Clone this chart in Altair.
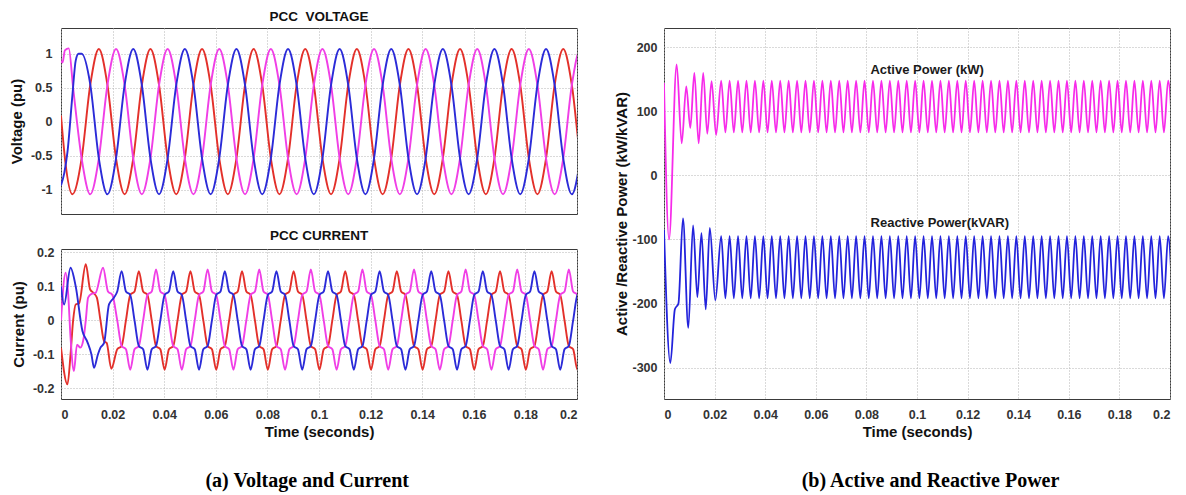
import altair as alt
import pandas as pd

# ---------------- shared time axis ----------------
X_TICKS = [0, 0.02, 0.04, 0.06, 0.08, 0.1, 0.12, 0.14, 0.16, 0.18, 0.2]

# ---------------- PCC voltage (pu) ----------------
# start-up samples (explicit times) for each phase
vr_tr_t = [0.0, 0.0017, 0.0044]
vr_tr_v = [0.09, -0.6, -1.07]
vm_tr_t = [0.0, 0.0006, 0.0015, 0.003, 0.0047]
vm_tr_v = [0.9, 0.87, 1.05, 1.08, 0.5]
vb_tr_t = [0.0, 0.0013, 0.0025, 0.0044, 0.0057, 0.0068]
vb_tr_v = [-0.94, -0.75, -0.45, 0.38, 0.9, 1.0]
# regularly sampled part: first sample time and sampling step (s)
V_START = 0.008
V_STEP = 0.02 / 6
vr_ss = [
    -0.54, 0.54, 1.07, 0.54, -0.54, -1.07,
    -0.54, 0.54, 1.07, 0.54, -0.54, -1.07,
    -0.54, 0.54, 1.07, 0.54, -0.54, -1.07,
    -0.54, 0.54, 1.07, 0.54, -0.54, -1.07,
    -0.54, 0.54, 1.07, 0.54, -0.54, -1.07,
    -0.54, 0.54, 1.07, 0.54, -0.54, -1.07,
    -0.54, 0.54, 1.07, 0.54, -0.54, -1.07,
    -0.54, 0.54, 1.07, 0.54, -0.54, -1.07,
    -0.54, 0.54, 1.07, 0.54, -0.54, -1.07,
    -0.54, 0.54, 1.07, 0.54, -0.54, -1.07,
]
vm_ss = [
    -0.54, -1.07, -0.54, 0.54, 1.07, 0.54,
    -0.54, -1.07, -0.54, 0.54, 1.07, 0.54,
    -0.54, -1.07, -0.54, 0.54, 1.07, 0.54,
    -0.54, -1.07, -0.54, 0.54, 1.07, 0.54,
    -0.54, -1.07, -0.54, 0.54, 1.07, 0.54,
    -0.54, -1.07, -0.54, 0.54, 1.07, 0.54,
    -0.54, -1.07, -0.54, 0.54, 1.07, 0.54,
    -0.54, -1.07, -0.54, 0.54, 1.07, 0.54,
    -0.54, -1.07, -0.54, 0.54, 1.07, 0.54,
    -0.54, -1.07, -0.54, 0.54, 1.07, 0.54,
]
vb_ss = [
    1.0, 0.55, -0.54, -1.07, -0.54, 0.54,
    1.07, 0.54, -0.54, -1.07, -0.54, 0.54,
    1.07, 0.54, -0.54, -1.07, -0.54, 0.54,
    1.07, 0.54, -0.54, -1.07, -0.54, 0.54,
    1.07, 0.54, -0.54, -1.07, -0.54, 0.54,
    1.07, 0.54, -0.54, -1.07, -0.54, 0.54,
    1.07, 0.54, -0.54, -1.07, -0.54, 0.54,
    1.07, 0.54, -0.54, -1.07, -0.54, 0.54,
    1.07, 0.54, -0.54, -1.07, -0.54, 0.54,
    1.07, 0.54, -0.54, -1.07, -0.54, 0.54,
]

# ---------------- PCC current (pu) ----------------
ir_tr_t = [0.0, 0.0025, 0.0037, 0.0047, 0.0057, 0.007, 0.0096, 0.0113, 0.0126, 0.0139, 0.0153, 0.0167, 0.0177, 0.0195, 0.0218]
ir_tr_v = [-0.08, -0.188, -0.10, 0.0, 0.047, 0.05, 0.165, 0.091, 0.081, 0.067, 0.0, -0.061, -0.066, -0.142, -0.085]
im_tr_t = [0.0, 0.0018, 0.0028, 0.0037, 0.005, 0.0062, 0.0075, 0.0088, 0.0096, 0.0105, 0.0118, 0.0134, 0.0163, 0.0182, 0.0199, 0.0218]
im_tr_v = [0.0, 0.14, 0.075, -0.05, -0.149, -0.071, -0.08, -0.051, 0.0, 0.067, 0.078, 0.081, 0.155, 0.085, 0.075, 0.0]
ib_tr_t = [0.0, 0.0012, 0.0037, 0.0057, 0.0083, 0.0102, 0.0118, 0.0128, 0.0143, 0.0153, 0.0167, 0.0186, 0.0205, 0.0218]
ib_tr_v = [0.10, 0.047, 0.155, 0.10, -0.031, -0.063, -0.10, -0.139, -0.10, -0.08, -0.066, 0.047, 0.067, 0.085]
I_START = 0.0235
I_STEP = 0.02 / 12
ir_ss = [
    -0.075, 0.0, 0.075, 0.085, 0.145, 0.085, 0.075, 0.0, -0.075, -0.085, -0.145, -0.085,
    -0.075, 0.0, 0.075, 0.085, 0.145, 0.085, 0.075, 0.0, -0.075, -0.085, -0.145, -0.085,
    -0.075, 0.0, 0.075, 0.085, 0.145, 0.085, 0.075, 0.0, -0.075, -0.085, -0.145, -0.085,
    -0.075, 0.0, 0.075, 0.085, 0.145, 0.085, 0.075, 0.0, -0.075, -0.085, -0.145, -0.085,
    -0.075, 0.0, 0.075, 0.085, 0.145, 0.085, 0.075, 0.0, -0.075, -0.085, -0.145, -0.085,
    -0.075, 0.0, 0.075, 0.085, 0.145, 0.085, 0.075, 0.0, -0.075, -0.085, -0.145, -0.085,
    -0.075, 0.0, 0.075, 0.085, 0.145, 0.085, 0.075, 0.0, -0.075, -0.085, -0.145, -0.085,
    -0.075, 0.0, 0.075, 0.085, 0.145, 0.085, 0.075, 0.0, -0.075, -0.085, -0.145, -0.085,
    -0.075, 0.0, 0.075, 0.085, 0.145, 0.085, 0.075, 0.0, -0.075, -0.085, -0.145, -0.085,
]
im_ss = [
    -0.075, -0.085, -0.145, -0.085, -0.075, 0.0, 0.075, 0.085, 0.15, 0.085, 0.075, 0.0,
    -0.075, -0.085, -0.145, -0.085, -0.075, 0.0, 0.075, 0.085, 0.15, 0.085, 0.075, 0.0,
    -0.075, -0.085, -0.145, -0.085, -0.075, 0.0, 0.075, 0.085, 0.15, 0.085, 0.075, 0.0,
    -0.075, -0.085, -0.145, -0.085, -0.075, 0.0, 0.075, 0.085, 0.15, 0.085, 0.075, 0.0,
    -0.075, -0.085, -0.145, -0.085, -0.075, 0.0, 0.075, 0.085, 0.15, 0.085, 0.075, 0.0,
    -0.075, -0.085, -0.145, -0.085, -0.075, 0.0, 0.075, 0.085, 0.15, 0.085, 0.075, 0.0,
    -0.075, -0.085, -0.145, -0.085, -0.075, 0.0, 0.075, 0.085, 0.15, 0.085, 0.075, 0.0,
    -0.075, -0.085, -0.145, -0.085, -0.075, 0.0, 0.075, 0.085, 0.15, 0.085, 0.075, 0.0,
    -0.075, -0.085, -0.145, -0.085, -0.075, 0.0, 0.075, 0.085, 0.15, 0.085, 0.075, 0.0,
]
ib_ss = [
    0.145, 0.085, 0.075, 0.0, -0.075, -0.085, -0.145, -0.085, -0.075, 0.0, 0.075, 0.085,
    0.145, 0.085, 0.075, 0.0, -0.075, -0.085, -0.145, -0.085, -0.075, 0.0, 0.075, 0.085,
    0.145, 0.085, 0.075, 0.0, -0.075, -0.085, -0.145, -0.085, -0.075, 0.0, 0.075, 0.085,
    0.145, 0.085, 0.075, 0.0, -0.075, -0.085, -0.145, -0.085, -0.075, 0.0, 0.075, 0.085,
    0.145, 0.085, 0.075, 0.0, -0.075, -0.085, -0.145, -0.085, -0.075, 0.0, 0.075, 0.085,
    0.145, 0.085, 0.075, 0.0, -0.075, -0.085, -0.145, -0.085, -0.075, 0.0, 0.075, 0.085,
    0.145, 0.085, 0.075, 0.0, -0.075, -0.085, -0.145, -0.085, -0.075, 0.0, 0.075, 0.085,
    0.145, 0.085, 0.075, 0.0, -0.075, -0.085, -0.145, -0.085, -0.075, 0.0, 0.075, 0.085,
    0.145, 0.085, 0.075, 0.0, -0.075, -0.085, -0.145, -0.085, -0.075, 0.0, 0.075, 0.085,
]

# ---------------- active / reactive power ----------------
p_tr_t = [0.0, 0.002, 0.005, 0.007, 0.0088, 0.0104, 0.012, 0.0137, 0.0155, 0.0171, 0.0188, 0.0206]
p_tr_v = [144, -100, 173, 50, 139, 74, 160, 50, 160, 65, 147, 63]
q_tr_t = [0.0, 0.0025, 0.0043, 0.0057, 0.0075, 0.0096, 0.0115, 0.0132, 0.0148, 0.0165, 0.0181, 0.0203]
q_tr_v = [-85, -293, -209, -200, -67, -238, -78, -190, -90, -209, -82, -195]
P_START = 0.0226
P_STEP = 0.02 / 12
p_ss = [
    148, 67, 148, 67, 148, 67, 148, 67, 148, 67, 148, 67, 148, 67, 148, 67, 148, 67,
    148, 67, 148, 67, 148, 67, 148, 67, 148, 67, 148, 67, 148, 67, 148, 67, 148, 67,
    148, 67, 148, 67, 148, 67, 148, 67, 148, 67, 148, 67, 148, 67, 148, 67, 148, 67,
    148, 67, 148, 67, 148, 67, 148, 67, 148, 67, 148, 67, 148, 67, 148, 67, 148, 67,
    148, 67, 148, 67, 148, 67, 148, 67, 148, 67, 148, 67, 148, 67, 148, 67, 148, 67,
    148, 67, 148, 67, 148, 67, 148, 67, 148, 67, 148, 67, 148, 67, 148, 67, 148, 67,
]
q_ss = [
    -95, -192, -95, -192, -95, -192, -95, -192, -95, -192, -95, -192, -95, -192, -95, -192, -95, -192,
    -95, -192, -95, -192, -95, -192, -95, -192, -95, -192, -95, -192, -95, -192, -95, -192, -95, -192,
    -95, -192, -95, -192, -95, -192, -95, -192, -95, -192, -95, -192, -95, -192, -95, -192, -95, -192,
    -95, -192, -95, -192, -95, -192, -95, -192, -95, -192, -95, -192, -95, -192, -95, -192, -95, -192,
    -95, -192, -95, -192, -95, -192, -95, -192, -95, -192, -95, -192, -95, -192, -95, -192, -95, -192,
    -95, -192, -95, -192, -95, -192, -95, -192, -95, -192, -95, -192, -95, -192, -95, -192, -95, -192,
]

# in-plot labels of the power panel (data coordinates)
ann_text = ["Active Power (kW)", "Reactive Power(kVAR)"]
ann_t = [0.104, 0.109]
ann_v = [165, -75]


def series(tr_t, tr_v, start, step, ss, name):
    rows = [{"t": t, "v": v, "s": name} for t, v in zip(tr_t, tr_v)]
    rows += [{"t": start + i * step, "v": v, "s": name} for i, v in enumerate(ss)]
    return rows


volt_df = pd.DataFrame(
    series(vr_tr_t, vr_tr_v, V_START, V_STEP, vr_ss, "red")
    + series(vm_tr_t, vm_tr_v, V_START, V_STEP, vm_ss, "magenta")
    + series(vb_tr_t, vb_tr_v, V_START, V_STEP, vb_ss, "blue")
)
curr_df = pd.DataFrame(
    series(ir_tr_t, ir_tr_v, I_START, I_STEP, ir_ss, "red")
    + series(im_tr_t, im_tr_v, I_START, I_STEP, im_ss, "magenta")
    + series(ib_tr_t, ib_tr_v, I_START, I_STEP, ib_ss, "blue")
)
pow_df = pd.DataFrame(
    series(p_tr_t, p_tr_v, P_START, P_STEP, p_ss, "P")
    + series(q_tr_t, q_tr_v, P_START, P_STEP, q_ss, "Q")
)
ann_df = pd.DataFrame({"t": ann_t, "v": ann_v, "label": ann_text})

FONT = "Liberation Sans"
phase_color = alt.Scale(domain=["red", "magenta", "blue"], range=["#e3302a", "#f03ee6", "#2b2bd8"])
pow_color = alt.Scale(domain=["P", "Q"], range=["#f72bea", "#2323dc"])
x_scale = alt.Scale(domain=[0, 0.2], nice=False, zero=False)
LBL = "'' + datum.value"

sub_title = dict(font=FONT, fontSize=13.5, fontWeight="bold", anchor="middle")

volt = (
    alt.Chart(volt_df)
    .mark_line(interpolate="monotone", strokeWidth=1.9, clip=True)
    .encode(
        x=alt.X("t:Q", scale=x_scale, axis=alt.Axis(values=X_TICKS, labels=False, title=None)),
        y=alt.Y("v:Q", scale=alt.Scale(domain=[-1.36, 1.38], nice=False),
                axis=alt.Axis(values=[-1, -0.5, 0, 0.5, 1], labelExpr=LBL, title="Voltage (pu)",
                              labelPadding=9, titlePadding=6)),
        color=alt.Color("s:N", scale=phase_color, legend=None),
    )
    .properties(width=516, height=186,
                title=alt.TitleParams("PCC\u00a0\u00a0VOLTAGE", offset=5, color="#111", **sub_title))
)

curr = (
    alt.Chart(curr_df)
    .mark_line(interpolate="monotone", strokeWidth=1.9, clip=True)
    .encode(
        x=alt.X("t:Q", scale=x_scale,
                axis=alt.Axis(values=X_TICKS, labelExpr=LBL, title="Time (seconds)",
                              labelPadding=9, titlePadding=4)),
        y=alt.Y("v:Q", scale=alt.Scale(domain=[-0.231, 0.21], nice=False),
                axis=alt.Axis(values=[-0.2, -0.1, 0, 0.1, 0.2], labelExpr=LBL, title="Current (pu)",
                              labelPadding=7, titlePadding=6)),
        color=alt.Color("s:N", scale=phase_color, legend=None),
    )
    .properties(width=516, height=150,
                title=alt.TitleParams("PCC CURRENT", offset=4, color="#111", **sub_title))
)

pow_lines = (
    alt.Chart(pow_df)
    .mark_line(interpolate="monotone", strokeWidth=1.8, clip=True)
    .encode(
        x=alt.X("t:Q", scale=x_scale,
                axis=alt.Axis(values=X_TICKS, labelExpr=LBL, title="Time (seconds)",
                              labelPadding=9, titlePadding=4)),
        y=alt.Y("v:Q", scale=alt.Scale(domain=[-349, 230], nice=False),
                axis=alt.Axis(values=[-300, -200, -100, 0, 100, 200], labelExpr=LBL,
                              title="Active /Reactive Power (kW/kVAR)", labelPadding=7, titlePadding=2)),
        color=alt.Color("s:N", scale=pow_color, legend=None),
    )
)
pow_text = (
    alt.Chart(ann_df)
    .mark_text(font=FONT, fontSize=13, fontWeight="bold", color="#1a1a1a")
    .encode(x="t:Q", y="v:Q", text="label:N")
)

cap = dict(orient="bottom", font="Liberation Serif", fontSize=20, fontWeight="bold",
           color="#000", anchor="middle", offset=31)

# invisible top title keeps the power panel's frame level with the voltage panel
power = alt.layer(pow_lines, pow_text).properties(
    width=506, height=371,
    title=alt.TitleParams("PCC\u00a0\u00a0VOLTAGE", offset=5, color="transparent", **sub_title),
)
right = alt.vconcat(power).properties(
    title=alt.TitleParams("(b)  Active and Reactive Power", dx=38, **cap)
)

left = alt.vconcat(volt, curr, spacing=35, bounds="flush").properties(
    title=alt.TitleParams("(a)  Voltage and Current", dx=14, **cap)
)

chart = (
    alt.hconcat(left, right, spacing=36)
    .resolve_scale(color="independent")
    .properties(padding={"left": 0, "top": 1, "right": 5, "bottom": 5}, background="white")
    .configure_view(stroke="#3a3a3a", strokeWidth=1)
    .configure_axis(
        labelFont=FONT, labelFontSize=12.5, labelFontWeight="bold", labelColor="#333",
        titleFont=FONT, titleFontSize=15, titleFontWeight="bold", titleColor="#111",
        grid=True, gridColor="#b5b5b5", gridDash=[1, 2], gridWidth=1,
        domain=False, ticks=False,
    )
)

chart.save("out.html", embed_options={"renderer": "svg", "actions": False})
